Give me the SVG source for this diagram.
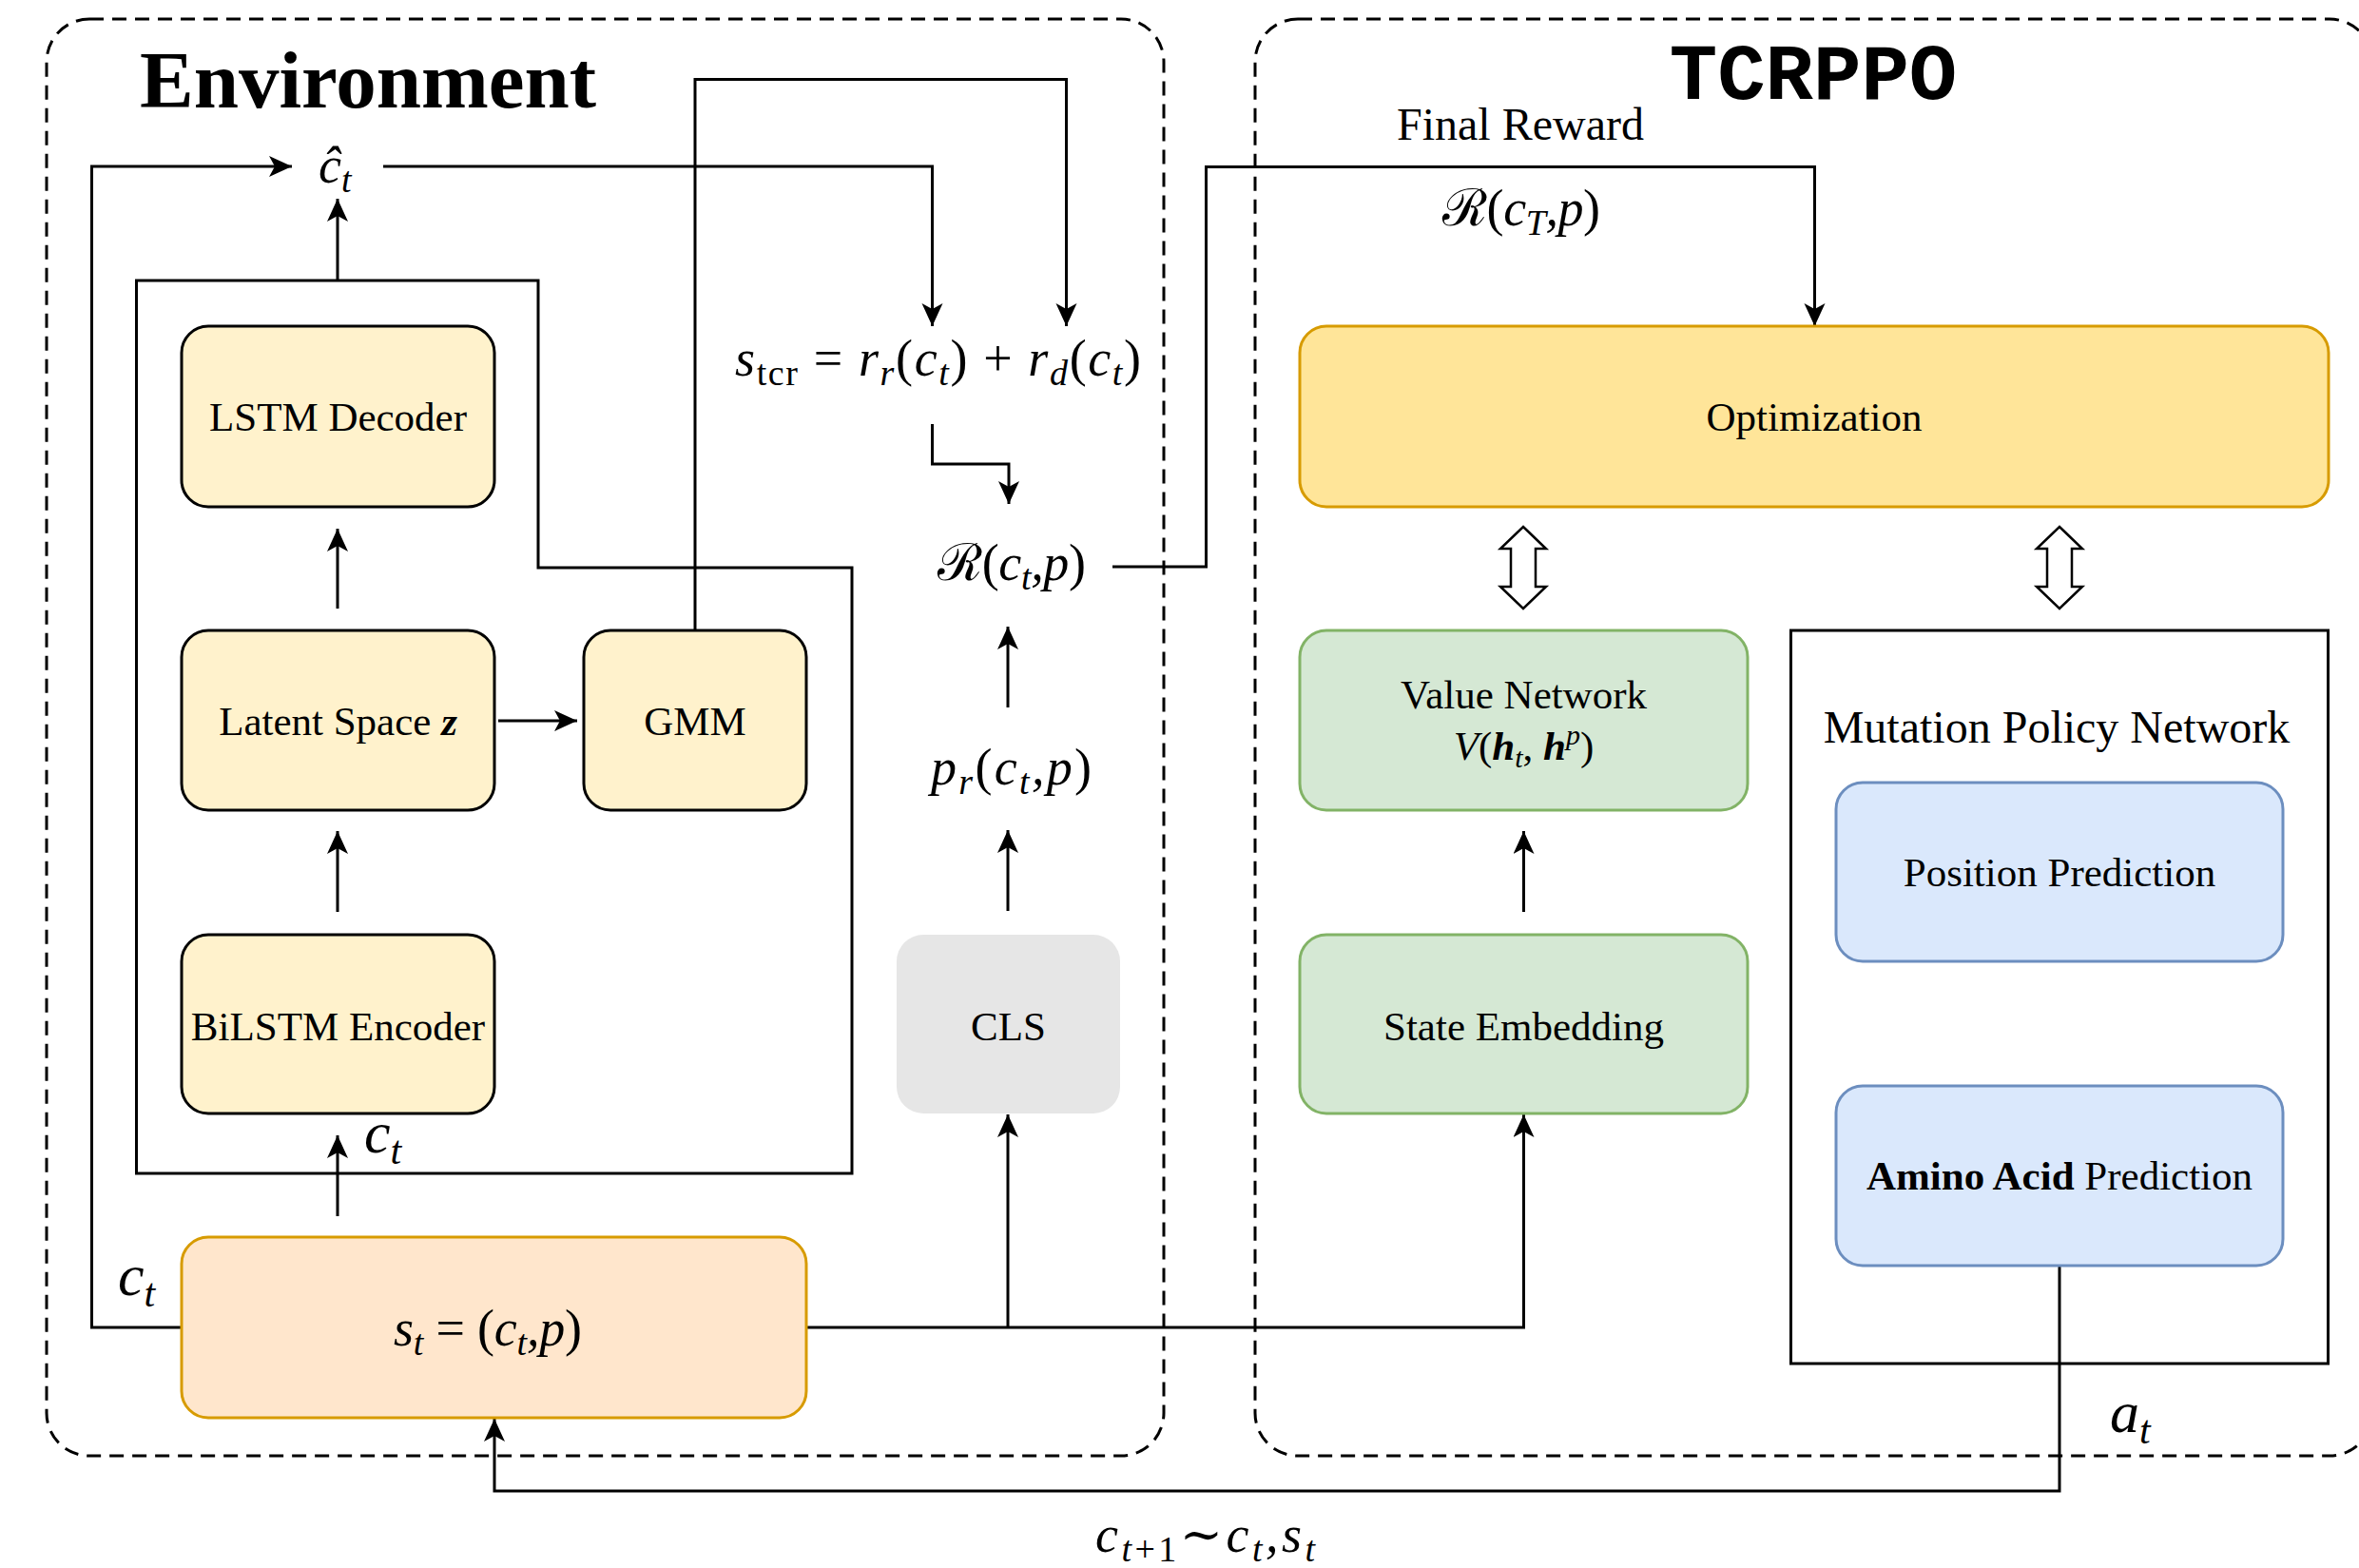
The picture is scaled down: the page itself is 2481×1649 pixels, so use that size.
<svg xmlns="http://www.w3.org/2000/svg" width="2481" height="1649" viewBox="0 0 2481 1649">
<style>
.dash{fill:none;stroke:#000;stroke-width:3;stroke-dasharray:15 9}
.t{font-family:"Liberation Serif",serif;font-size:43px;text-anchor:middle;fill:#000}
.title{font-family:"Liberation Serif",serif;font-size:85px;font-weight:bold;fill:#000}
.mono{font-family:"Liberation Mono","Courier New",monospace;font-size:84px;font-weight:bold;text-anchor:middle;fill:#000}
.lbl{font-family:"Liberation Serif",serif;font-size:48px;text-anchor:middle;fill:#000}
.m{font-family:"Liberation Serif","DejaVu Serif",serif;font-size:54px;font-style:italic;fill:#000}
.mb{font-family:"Liberation Serif","DejaVu Serif",serif;font-size:62px;font-style:italic;fill:#000}
.sb{font-size:38px}
.sbb{font-size:42px}
.up{font-style:normal}
.yel{fill:#FFF2CC;stroke:#000;stroke-width:3}
.grn{fill:#D5E8D4;stroke:#82B366;stroke-width:3}
.blu{fill:#DAE8FC;stroke:#6C8EBF;stroke-width:3}
.line{fill:none;stroke:#000;stroke-width:3}
.dbl{fill:#fff;stroke:#000;stroke-width:2.5}
</style>
<defs>
<marker id="arr" markerUnits="userSpaceOnUse" markerWidth="26" markerHeight="24" refX="24" refY="11" orient="auto">
<path d="M24,11 L0,0 L6,11 L0,22 Z" fill="#000"/>
</marker>
</defs>
<rect width="2481" height="1649" fill="#fff"/>

<g id="environment">
<rect class="dash" x="49" y="20" width="1175" height="1511" rx="45" ry="45"/>
<text class="title" x="147" y="113">Environment</text>
</g>
<g id="tcrppo">
<rect class="dash" x="1320" y="20" width="1175" height="1511" rx="45" ry="45"/>
<text class="mono" x="1907" y="104">TCRPPO</text>
</g>

<g id="vae-enclosure">
<path class="line" d="M143.5,295 H566 V597 H896 V1234 H143.5 Z"/>
</g>

<g id="connectors">
<path class="line" d="M191,1396 H96.5 V175 H307" marker-end="url(#arr)"/>
<path class="line" d="M403,175 H980.5 V343" marker-end="url(#arr)"/>
<path class="line" d="M731,663 V83.5 H1121.5 V343" marker-end="url(#arr)"/>
<path class="line" d="M355,295 V209" marker-end="url(#arr)"/>
<path class="line" d="M355,640 V556" marker-end="url(#arr)"/>
<path class="line" d="M524,758 H607" marker-end="url(#arr)"/>
<path class="line" d="M355,959 V874" marker-end="url(#arr)"/>
<path class="line" d="M355,1279 V1194" marker-end="url(#arr)"/>
<path class="line" d="M980.5,446 V488 H1061 V530" marker-end="url(#arr)"/>
<path class="line" d="M1060,744 V659" marker-end="url(#arr)"/>
<path class="line" d="M1060,958 V873" marker-end="url(#arr)"/>
<path class="line" d="M848,1396 H1602.5 V1172" marker-end="url(#arr)"/>
<path class="line" d="M1060,1396 V1172" marker-end="url(#arr)"/>
<path class="line" d="M1170,596 H1268.5 V175.5 H1908.5 V343" marker-end="url(#arr)"/>
<path class="line" d="M1602.5,959 V874" marker-end="url(#arr)"/>
<path class="line" d="M2166,1331 V1568 H520 V1492" marker-end="url(#arr)"/>
<path class="dbl" d="M1602,554 L1626,577 L1615,577 L1615,617 L1626,617 L1602,640 L1578,617 L1589,617 L1589,577 L1578,577 Z"/>
<path class="dbl" d="M2166,554 L2190,577 L2179,577 L2179,617 L2190,617 L2166,640 L2142,617 L2153,617 L2153,577 L2142,577 Z"/>
</g>

<g id="lstm-decoder">
<rect class="yel" x="191" y="343" width="329" height="190" rx="28"/>
<text class="t" x="355.5" y="453">LSTM Decoder</text>
</g>
<g id="latent-space">
<rect class="yel" x="191" y="663" width="329" height="189" rx="28"/>
<text class="t" x="355.5" y="773">Latent Space <tspan font-weight="bold" font-style="italic">z</tspan></text>
</g>
<g id="gmm">
<rect class="yel" x="614" y="663" width="234" height="189" rx="28"/>
<text class="t" x="731" y="773">GMM</text>
</g>
<g id="bilstm-encoder">
<rect class="yel" x="191" y="983" width="329" height="188" rx="28"/>
<text class="t" x="355.5" y="1094">BiLSTM Encoder</text>
</g>
<g id="cls">
<rect x="943" y="983" width="235" height="188" rx="28" fill="#E6E6E6"/>
<text class="t" x="1060.5" y="1094">CLS</text>
</g>
<g id="state">
<rect x="191" y="1301" width="657" height="190" rx="28" fill="#FFE6CC" stroke="#D79B00" stroke-width="3"/>
<text class="m" x="414" y="1415" textLength="198">s<tspan class="sb" dy="10">t</tspan><tspan class="up" dy="-10"> = (</tspan>c<tspan class="sb" dy="10">t</tspan><tspan dy="-10">,</tspan>p<tspan class="up">)</tspan></text>
</g>
<g id="optimization">
<rect x="1367" y="343" width="1082" height="190" rx="28" fill="#FFE599" stroke="#D79B00" stroke-width="3"/>
<text class="t" x="1908" y="453">Optimization</text>
</g>
<g id="value-network">
<rect class="grn" x="1367" y="663" width="471" height="189" rx="28"/>
<text class="t" x="1602.5" y="745">Value Network</text>
<text class="t" x="1602.5" y="799"><tspan font-style="italic">V</tspan>(<tspan font-weight="bold" font-style="italic">h</tspan><tspan font-style="italic" style="font-size:30px" dy="8">t</tspan><tspan dy="-8">, </tspan><tspan font-weight="bold" font-style="italic">h</tspan><tspan font-style="italic" style="font-size:30px" dy="-16">p</tspan><tspan dy="16">)</tspan></text>
</g>
<g id="state-embedding">
<rect class="grn" x="1367" y="983" width="471" height="188" rx="28"/>
<text class="t" x="1602.5" y="1094">State Embedding</text>
</g>
<g id="mutation-policy-network">
<rect x="1883.5" y="663" width="565" height="771" fill="none" stroke="#000" stroke-width="3"/>
<text class="lbl" x="2163" y="781">Mutation Policy Network</text>
</g>
<g id="position-prediction">
<rect class="blu" x="1931" y="823" width="470" height="188" rx="28"/>
<text class="t" x="2166" y="932">Position Prediction</text>
</g>
<g id="amino-acid-prediction">
<rect class="blu" x="1931" y="1142" width="470" height="189" rx="28"/>
<text class="t" x="2166" y="1251"><tspan font-weight="bold">Amino Acid</tspan> Prediction</text>
</g>

<g id="labels">
<text class="m" x="335" y="192">ĉ<tspan class="sb" dy="10">t</tspan></text>
<text class="m" x="773" y="395" textLength="427">s<tspan class="sb up" dy="10">tcr</tspan><tspan class="up" dy="-10"> = </tspan>r<tspan class="sb" dy="10">r</tspan><tspan class="up" dy="-10">(</tspan>c<tspan class="sb" dy="10">t</tspan><tspan class="up" dy="-10">) + </tspan>r<tspan class="sb" dy="10">d</tspan><tspan class="up" dy="-10">(</tspan>c<tspan class="sb" dy="10">t</tspan><tspan class="up" dy="-10">)</tspan></text>
<text class="m" x="986" y="610" textLength="156"><tspan class="up">ℛ(</tspan>c<tspan class="sb" dy="10">t</tspan><tspan dy="-10">,</tspan>p<tspan class="up">)</tspan></text>
<text class="m" x="979" y="825" textLength="169">p<tspan class="sb" dy="10">r</tspan><tspan class="up" dy="-10">(</tspan>c<tspan class="sb" dy="10">t</tspan><tspan dy="-10">,</tspan>p<tspan class="up">)</tspan></text>
<text class="m" x="1517" y="237" textLength="166"><tspan class="up">ℛ(</tspan>c<tspan class="sb" dy="10">T</tspan><tspan dy="-10">,</tspan>p<tspan class="up">)</tspan></text>
<text class="lbl" x="1599" y="147">Final Reward</text>
<text class="mb" x="124" y="1362">c<tspan class="sbb" dy="12">t</tspan></text>
<text class="mb" x="383" y="1212">c<tspan class="sbb" dy="12">t</tspan></text>
<text class="mb" x="2219" y="1506">a<tspan class="sbb" dy="12">t</tspan></text>
<text class="m" x="1152" y="1632" textLength="231">c<tspan class="sb" dy="10">t</tspan><tspan class="sb up">+1</tspan><tspan class="up" dy="-10">∼</tspan>c<tspan class="sb" dy="10">t</tspan><tspan dy="-10">,</tspan>s<tspan class="sb" dy="10">t</tspan></text>
</g>
</svg>
